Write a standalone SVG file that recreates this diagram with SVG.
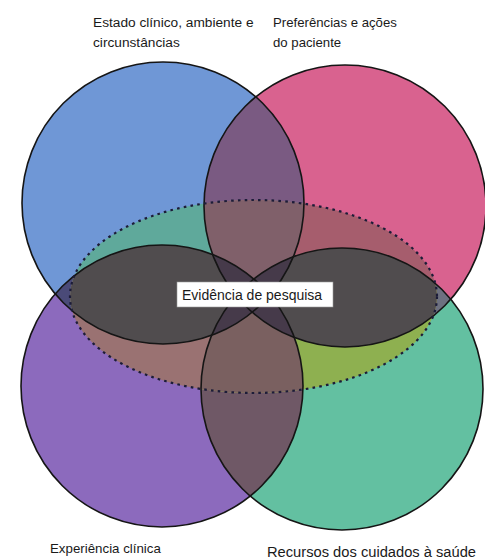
<svg xmlns="http://www.w3.org/2000/svg" width="485" height="559" viewBox="0 0 485 559">
<style>
.lbl{font-family:"Liberation Sans",Arial,sans-serif;font-size:14px;fill:#1a1a1a}
.ol{fill:none;stroke:#151515;stroke-width:1.6}
.dot{fill:none;stroke:#1c1c38;stroke-width:2.2;stroke-dasharray:2.6 4.2}
</style>
<defs>
<clipPath id="cBlue"><circle cx="163" cy="203" r="141"/></clipPath>
<clipPath id="cPink"><circle cx="345" cy="206" r="141"/></clipPath>
<clipPath id="cPurple"><circle cx="162" cy="386" r="141"/></clipPath>
<clipPath id="cGreen"><circle cx="342" cy="389" r="141"/></clipPath>
<clipPath id="cDash"><ellipse cx="253.5" cy="296.5" rx="183.5" ry="96.5"/></clipPath>
</defs>
<rect width="485" height="559" fill="#ffffff"/>
<g id="fills">
<circle cx="163" cy="203" r="141" fill="#6f97d6"/>
<circle cx="345" cy="206" r="141" fill="#d9628f"/>
<circle cx="162" cy="386" r="141" fill="#8c6abd"/>
<circle cx="342" cy="389" r="141" fill="#63c0a1"/>
<circle cx="345" cy="206" r="141" fill="#7a5a82" clip-path="url(#cBlue)"/>
<circle cx="342" cy="389" r="141" fill="#6f5866" clip-path="url(#cPurple)"/>
<circle cx="162" cy="386" r="141" fill="#4a4a78" clip-path="url(#cBlue)"/>
<circle cx="342" cy="389" r="141" fill="#6d7080" clip-path="url(#cPink)"/>
<g clip-path="url(#cDash)">
<circle cx="163" cy="203" r="141" fill="#5fa99b"/>
<circle cx="345" cy="206" r="141" fill="#a65d6d"/>
<circle cx="162" cy="386" r="141" fill="#9a7272"/>
<circle cx="342" cy="389" r="141" fill="#8eb050"/>
<circle cx="345" cy="206" r="141" fill="#80606a" clip-path="url(#cBlue)"/>
<circle cx="342" cy="389" r="141" fill="#7a6060" clip-path="url(#cPurple)"/>
<circle cx="162" cy="386" r="141" fill="#504c4e" clip-path="url(#cBlue)"/>
<circle cx="342" cy="389" r="141" fill="#504c4e" clip-path="url(#cPink)"/>
<g clip-path="url(#cBlue)">
<circle cx="162" cy="386" r="141" fill="#463a4a" clip-path="url(#cPink)"/>
<circle cx="342" cy="389" r="141" fill="#463a4a" clip-path="url(#cPink)"/>
</g>
<g clip-path="url(#cPurple)">
<circle cx="163" cy="203" r="141" fill="#463a4a" clip-path="url(#cGreen)"/>
<circle cx="345" cy="206" r="141" fill="#463a4a" clip-path="url(#cGreen)"/>
</g>
</g>
</g>
<g id="node-estado">
<circle class="ol" cx="163" cy="203" r="141"/>
<text class="lbl" x="93" y="27" style="font-size:13.7px">Estado clínico, ambiente e</text>
<text class="lbl" x="93" y="47" style="font-size:13.7px">circunstâncias</text>
</g>
<g id="node-preferencias">
<circle class="ol" cx="345" cy="206" r="141"/>
<text class="lbl" x="273" y="27" style="font-size:13.2px">Preferências e ações</text>
<text class="lbl" x="273" y="47" style="font-size:13.2px">do paciente</text>
</g>
<g id="node-experiencia">
<circle class="ol" cx="162" cy="386" r="141"/>
<text class="lbl" x="50" y="553" style="font-size:13.3px">Experiência clínica</text>
</g>
<g id="node-recursos">
<circle class="ol" cx="342" cy="389" r="141"/>
<text class="lbl" x="267" y="557" style="font-size:14.7px">Recursos dos cuidados à saúde</text>
</g>
<g id="node-evidencia">
<ellipse class="dot" cx="253.5" cy="296.5" rx="183.5" ry="96.5"/>
<rect x="177" y="282" width="156" height="25" fill="#ffffff" stroke="#9a9a9a" stroke-width="0.6"/>
<text class="lbl" x="182" y="299.5">Evidência de pesquisa</text>
</g>
<g id="connectors"/>
</svg>
